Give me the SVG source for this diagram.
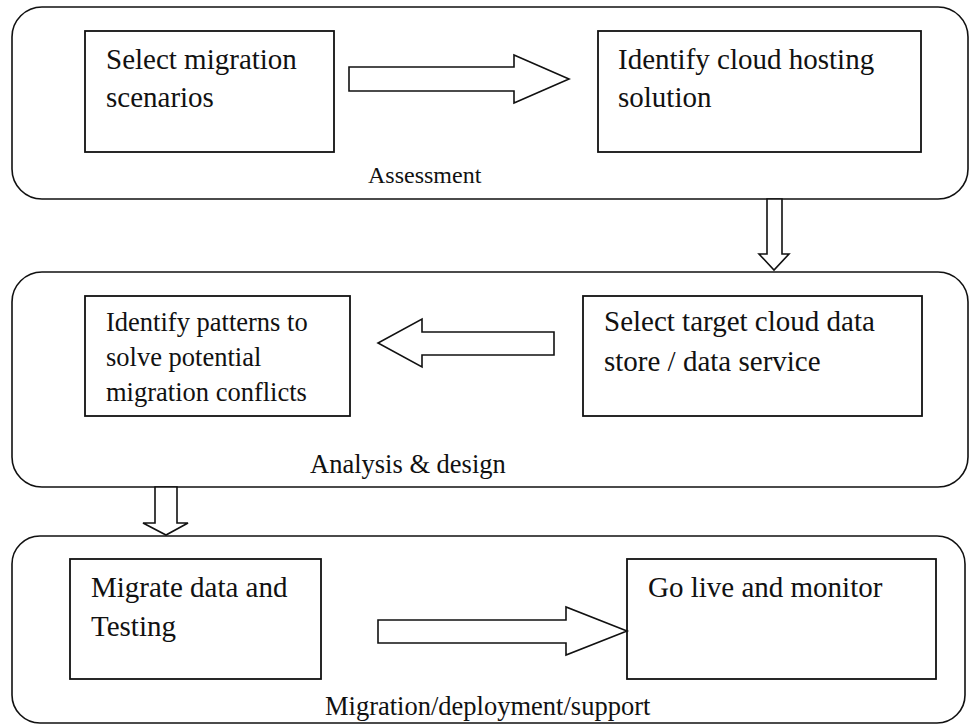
<svg xmlns="http://www.w3.org/2000/svg" width="969" height="725" viewBox="0 0 969 725">
<style>
.stage{fill:none;stroke:#111;stroke-width:1.6}
.box{fill:#fff;stroke:#111;stroke-width:1.8}
.arrow{fill:#fff;stroke:#111;stroke-width:1.6;stroke-linejoin:miter}
.t{font-family:"Liberation Serif","Times New Roman",serif;fill:#111;font-size:29px}
.t2{font-family:"Liberation Serif","Times New Roman",serif;fill:#111;font-size:26.5px}
.lbl{font-family:"Liberation Serif","Times New Roman",serif;fill:#111;font-size:26.5px}
</style>
<rect width="969" height="725" fill="#fff"/>
<g id="stage-assessment">
<rect class="stage" x="12" y="7" width="956" height="192" rx="30"/>
<text class="lbl" x="368" y="183" style="font-size:24px">Assessment</text>
</g>
<g id="stage-analysis">
<rect class="stage" x="12" y="272" width="956" height="215" rx="30"/>
<text class="lbl" x="310" y="473">Analysis &amp; design</text>
</g>
<g id="stage-migration">
<rect class="stage" x="12" y="536" width="953" height="187" rx="28"/>
<text class="lbl" x="325" y="715">Migration/deployment/support</text>
</g>
<g id="n1">
<rect class="box" x="85" y="31" width="249" height="121"/>
<text class="t" x="106" y="69">Select migration</text>
<text class="t" x="106" y="107">scenarios</text>
</g>
<g id="n2">
<rect class="box" x="598" y="31" width="323" height="121"/>
<text class="t" x="618" y="69">Identify cloud hosting</text>
<text class="t" x="618" y="107">solution</text>
</g>
<g id="n3">
<rect class="box" x="85" y="296" width="265" height="120"/>
<text class="t2" x="106" y="331">Identify patterns to</text>
<text class="t2" x="106" y="366">solve potential</text>
<text class="t2" x="106" y="401">migration conflicts</text>
</g>
<g id="n4">
<rect class="box" x="583" y="296" width="339" height="120"/>
<text class="t" x="604" y="331">Select target cloud data</text>
<text class="t" x="604" y="371">store / data service</text>
</g>
<g id="n5">
<rect class="box" x="70" y="559" width="251" height="120"/>
<text class="t" x="91" y="597">Migrate data and</text>
<text class="t" x="91" y="636">Testing</text>
</g>
<g id="n6">
<rect class="box" x="627" y="559" width="309" height="120"/>
<text class="t" x="648" y="597">Go live and monitor</text>
</g>
<g id="connectors">
<polygon class="arrow" points="349,67 514,67 514,55 569,79 514,103 514,91 349,91"/>
<polygon class="arrow" points="767,199 782,199 782,254 789,254 774,270 759,254 767,254"/>
<polygon class="arrow" points="554,332 422,332 422,319 378,343 422,367 422,355 554,355"/>
<polygon class="arrow" points="155,487 177,487 177,523 188,523 166,535 143,523 155,523"/>
<polygon class="arrow" points="378,620 566,620 566,607 627,631 566,655 566,643 378,643"/>
</g>
</svg>
